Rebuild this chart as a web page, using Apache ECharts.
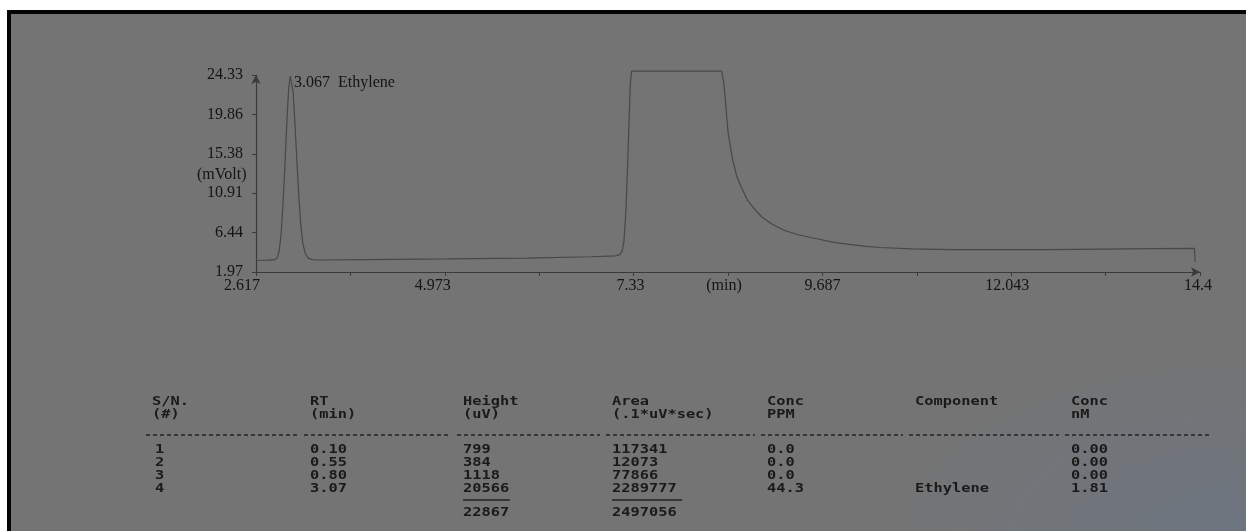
<!DOCTYPE html>
<html><head><meta charset="utf-8">
<script src="https://cdn.jsdelivr.net/npm/echarts@6/dist/echarts.min.js"></script>
<style>
html,body{margin:0;padding:0;background:#fff;width:1246px;height:531px;overflow:hidden}
#frame{position:absolute;left:7px;top:10px;width:1239px;height:521px;box-sizing:border-box;border-left:4px solid #050505;border-top:4px solid #050505;
background:radial-gradient(ellipse 30% 35% at 100% 100%, #6d7580 0%, #747474 100%);}
#chart{position:absolute;left:0;top:0;width:1246px;height:531px}
</style></head><body>
<div id="frame"></div><div id="chart"></div>
<script>
// ---- data (time in min, signal in mV) ----
const ethylenePeak = [[2.617,3.30],[2.75,3.31],[2.84,3.34],[2.88,3.55],[2.905,4.3],[2.93,6.2],[2.955,9.8],[2.98,14.5],[3.005,19.5],[3.025,22.8],[3.045,24.2],[3.06,24.0],[3.08,22.4],[3.10,19.4],[3.125,15.0],[3.15,10.8],[3.175,7.4],[3.20,5.3],[3.23,4.1],[3.27,3.55],[3.32,3.38],[3.40,3.33]];
const baseline = [[4.0,3.38],[5.0,3.45],[6.0,3.55],[6.8,3.70],[7.1,3.80],[7.16,3.95],[7.19,4.4]];
const saturatedBlock = [[7.21,5.5],[7.235,9],[7.255,14],[7.275,19.5],[7.29,23.5],[7.305,24.78],[8.43,24.78],[8.455,23.5],[8.475,21.5],[8.51,17.75],[8.56,15.0],[8.62,12.75],[8.69,11.3],[8.75,10.14],[8.84,9.1],[8.93,8.21],[9.05,7.45],[9.2,6.74],[9.38,6.2],[9.57,5.83],[9.85,5.3],[10.2,4.9],[10.4,4.75]];
const tail = [[10.8,4.6],[11.3,4.52],[11.8,4.5],[12.5,4.52],[13.2,4.57],[13.8,4.62],[14.33,4.65],[14.34,3.1]];

const xTickValues = [2.617, 4.973, 7.33, 8.5085, 9.687, 12.043, 14.4];
const xTickLabels = ['2.617','4.973','7.33','(min)','9.687','12.043','14.4'];
const yTickValues = [1.97, 6.44, 10.91, 15.38, 19.86, 24.33];
const yTickLabels = ['1.97','6.44','10.91','15.38','19.86','24.33'];
const peakRT = 3.067, peakName = 'Ethylene';

// ---- report table ----
const headRow1 = ['S/N.','RT','Height','Area','Conc','Component','Conc'];
const headRow2 = ['(#)','(min)','(uV)','(.1*uV*sec)','PPM','','nM'];
const colSN = ['1','2','3','4'];
const colRT = ['0.10','0.55','0.80','3.07'];
const colHeight = ['799','384','1118','20566'];
const colArea = ['117341','12073','77866','2289777'];
const colPPM = ['0.0','0.0','0.0','44.3'];
const colComponent = ['','','','Ethylene'];
const colNM = ['0.00','0.00','0.00','1.81'];
const totalHeight = '22867', totalArea = '2497056';

const signal = ethylenePeak.concat(baseline, saturatedBlock, tail);

function pickIndex(vals, v){
  for (let i=0;i<vals.length;i++){ if (Math.abs(vals[i]-v) < 0.02) return i; }
  return -1;
}

const serif = 'Liberation Serif';
const mono = 'DejaVu Sans Mono';
const ink = '#141414';
const lineInk = '#3a3a3a';

// layout of the printed report
const colX = [152, 310, 463, 612, 767, 915, 1071];
const colEnd = [298, 451, 600, 755, 903, 1059, 1212];
const graphics = [];
function txt(x, y, s){
  graphics.push({type:'text', x:x, y:y, scaleX:1.18, silent:true,
    style:{text:s, fill:'#1a1a1a', font:'bold 13px "' + mono + '"', verticalAlign:'middle', align:'left'}});
}
headRow1.forEach((s,i)=>txt(colX[i], 402, s));
headRow2.forEach((s,i)=>txt(colX[i], 415, s));
colX.forEach((x,i)=>graphics.push({type:'line', silent:true, shape:{x1:x-6, y1:435, x2:colEnd[i], y2:435},
  style:{stroke:'#222', lineWidth:1.5, lineDash:[4,3]}}));
const cols = [colSN, colRT, colHeight, colArea, colPPM, colComponent, colNM];
cols.forEach((c,i)=>c.forEach((s,r)=>txt(colX[i] + (i===0?3:0), 450 + r*12.8, s)));
[[colX[2], 510],[colX[3], 682]].forEach(p=>{
  graphics.push({type:'line', silent:true, shape:{x1:p[0], y1:500, x2:p[1], y2:500}, style:{stroke:'#222', lineWidth:1.5}});
});
txt(colX[2], 513, totalHeight);
txt(colX[3], 513, totalArea);
graphics.push({type:'text', x:197, y:175, silent:true,
  style:{text:'(mVolt)', fill:ink, font:'16px "' + serif + '"', verticalAlign:'middle', align:'left'}});

// small print offsets of the x labels (px to the left)
const xLabelShift = [14, 12, 3, 4, 0, 4, 2];
const rich = {};
xLabelShift.forEach((s,i)=>{ rich['s'+i] = {padding:[0, 2*s, 0, 0], color:ink, fontFamily:serif, fontSize:16}; });

const chart = echarts.init(document.getElementById('chart'), null, {renderer:'canvas'});
chart.setOption({
  backgroundColor: 'transparent',
  animation: false,
  grid: {left:256, right:46, top:75, bottom:259},
  xAxis: {
    type:'value', min:2.617, max:14.4, interval:1.1783,
    axisLine:{show:true, onZero:false, symbol:['none','arrow'], symbolSize:[7,9], lineStyle:{color:lineInk, width:1.2}},
    axisTick:{show:true, length:4, lineStyle:{color:lineInk}},
    axisLabel:{margin:6, color:ink, fontFamily:serif, fontSize:16,
      showMinLabel:true, showMaxLabel:true, rich: rich,
      formatter:(v)=>{ const i = pickIndex(xTickValues, v); return i < 0 ? '' : '{s' + i + '|' + xTickLabels[i] + '}'; }},
    splitLine:{show:false}
  },
  yAxis: {
    type:'value', min:1.97, max:24.33, interval:4.472,
    axisLine:{show:true, onZero:false, symbol:['none','arrow'], symbolSize:[7,9], lineStyle:{color:lineInk, width:1.2}},
    axisTick:{show:true, length:4, lineStyle:{color:lineInk}},
    axisLabel:{margin:13, color:ink, fontFamily:serif, fontSize:16,
      formatter:(v)=>{ const i = pickIndex(yTickValues, v); return i < 0 ? '' : yTickLabels[i]; }},
    splitLine:{show:false}
  },
  graphic: graphics,
  series: [{
    type:'line', data: signal, showSymbol:false, clip:false,
    lineStyle:{color:'#484848', width:1.2},
    markPoint:{
      symbol:'circle', symbolSize:0, silent:true,
      data:[{coord:[peakRT, 23.5],
        label:{show:true, position:'right', distance:2, formatter: peakRT.toFixed(3) + '  ' + peakName,
          color:ink, fontFamily:serif, fontSize:16}}]
    }
  }]
});
</script></body></html>
